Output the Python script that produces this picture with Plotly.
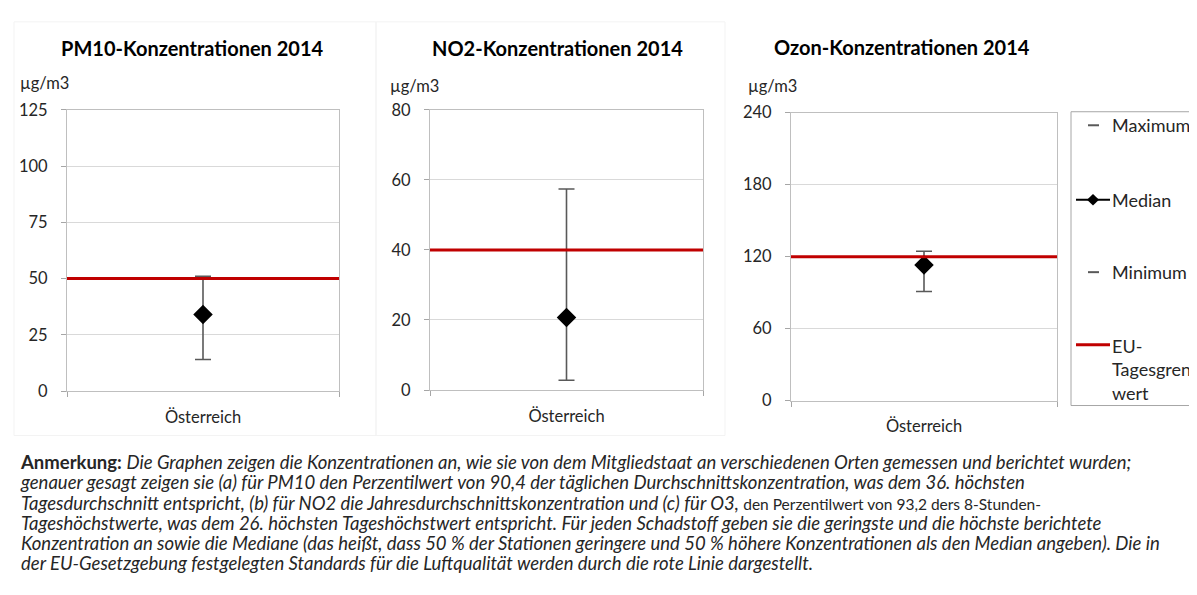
import plotly.graph_objects as go

W, H = 1197, 595
OFF = 8  # page body margin of the html page

categories = ["Österreich"]

titles = ["PM10-Konzentrationen 2014", "NO2-Konzentrationen 2014", "Ozon-Konzentrationen 2014"]
unit = "µg/m3"

pm10_min = [14]
pm10_median = [34]
pm10_max = [51]
pm10_limit = 50
pm10_ticks = [0, 25, 50, 75, 100, 125]

no2_min = [2.8]
no2_median = [20.7]
no2_max = [57.4]
no2_limit = 40
no2_ticks = [0, 20, 40, 60, 80]

o3_min = [91]
o3_median = [113]
o3_max = [124.5]
o3_limit = 120
o3_ticks = [0, 60, 120, 180, 240]

legend_labels = ["Maximum", "Median", "Minimum", "EU-<br>Tagesgrenz<br>wert"]

caption_lines = [
    "<b>Anmerkung:</b> <i>Die Graphen zeigen die Konzentrationen an, wie sie von dem Mitgliedstaat an verschiedenen Orten gemessen und berichtet wurden;</i>",
    "<i>genauer gesagt zeigen sie (a) für PM10 den Perzentilwert von 90,4 der täglichen Durchschnittskonzentration, was dem 36. höchsten</i>",
    "<i>Tagesdurchschnitt entspricht, (b) für NO2 die Jahresdurchschnittskonzentration und (c) für O3, </i><span style='font-size:15.5px'>den Perzentilwert von 93,2 ders 8-Stunden-</span>",
    "<i>Tageshöchstwerte, was dem 26. höchsten Tageshöchstwert entspricht. Für jeden Schadstoff geben sie die geringste und die höchste berichtete</i>",
    "<i>Konzentration an sowie die Mediane (das heißt, dass 50 % der Stationen geringere und 50 % höhere Konzentrationen als den Median angeben). Die in</i>",
    "<i>der EU-Gesetzgebung festgelegten Standards für die Luftqualität werden durch die rote Linie dargestellt.</i>",
]

FONT = "Lato"
TXT = "#262626"
GRID = "#d9d9d9"
RED = "#c00000"


def px(x):
    return (x - OFF) / W


def py(y):
    return 1 - (y - OFF) / H


# panel layout in pixels: (left, right, top, bottom)
boxes = [(67, 339, 103, 394), (430, 703, 103, 393), (791, 1057, 106, 404)]
title_pos = [(192, 39), (557, 39), (902, 38)]
unit_pos = [(18, 75), (388, 78), (746, 78)]

data = [
    (pm10_min, pm10_median, pm10_max, pm10_limit, pm10_ticks),
    (no2_min, no2_median, no2_max, no2_limit, no2_ticks),
    (o3_min, o3_median, o3_max, o3_limit, o3_ticks),
]

fig = go.Figure()
annotations = []
shapes = []

# faint chart-area frames
for (x0, y0, x1, y1) in [(14, 12, 376, 440), (376, 12, 725, 440)]:
    shapes.append(dict(type="rect", xref="paper", yref="paper",
                       x0=px(x0), x1=px(x1), y0=py(y1), y1=py(y0),
                       line=dict(color="#f3f3f3", width=1), layer="below"))

for i, ((mn, med, mx, lim, ticks), (l, r, t, b)) in enumerate(zip(data, boxes)):
    n = "" if i == 0 else str(i + 1)
    xa, ya = "x" + n, "y" + n
    fig.add_trace(go.Scatter(
        x=categories, y=med, mode="markers",
        marker=dict(symbol="diamond", size=15, color="black"),
        error_y=dict(type="data", symmetric=False,
                     array=[hi - m for hi, m in zip(mx, med)],
                     arrayminus=[m - lo for m, lo in zip(med, mn)],
                     color="#595959", thickness=1.6, width=8),
        xaxis=xa, yaxis=ya, showlegend=False, hoverinfo="skip",
    ))
    fig.update_layout(**{
        "xaxis" + n: dict(domain=[px(l), px(r)], anchor=ya, type="category",
                          range=[-0.5, 0.5], showgrid=False, ticks="outside",
                          tickson="boundaries", ticklen=5, tickcolor="#a6a6a6",
                          showline=True, linecolor="#bfbfbf", mirror=True,
                          ticklabelstandoff=11,
                          tickfont=dict(family=FONT, size=16.5, color=TXT),
                          fixedrange=True),
        "yaxis" + n: dict(domain=[py(b), py(t)], anchor=xa,
                          range=[ticks[0], ticks[-1]], tickvals=ticks,
                          showgrid=True, gridcolor=GRID, gridwidth=1,
                          ticks="outside", ticklen=5, tickcolor="#a6a6a6",
                          showline=True, linecolor="#bfbfbf", mirror=True,
                          zeroline=False, ticklabelstandoff=10,
                          tickfont=dict(family=FONT, size=16.5, color=TXT),
                          fixedrange=True),
    })
    shapes.append(dict(type="line", xref=xa + " domain", yref=ya,
                       x0=0, x1=1, y0=lim, y1=lim,
                       line=dict(color=RED, width=3)))
    tx, ty = title_pos[i]
    annotations.append(dict(text="<b>" + titles[i] + "</b>", x=px(tx), y=py(ty),
                            xref="paper", yref="paper", showarrow=False,
                            xanchor="center", yanchor="middle",
                            font=dict(family=FONT, size=20, color="black")))
    ux, uy = unit_pos[i]
    annotations.append(dict(text=unit, x=px(ux), y=py(uy),
                            xref="paper", yref="paper", showarrow=False,
                            xanchor="left", yanchor="middle",
                            font=dict(family=FONT, size=16.5, color=TXT)))

# legend box (clipped at right edge)
shapes.append(dict(type="rect", xref="paper", yref="paper",
                   x0=px(1071), x1=px(1215), y0=py(409), y1=py(105),
                   line=dict(color="#a6a6a6", width=1)))
leg_y = [119, 196, 271, 346]
for yy in (leg_y[0], leg_y[2]):
    shapes.append(dict(type="line", xref="paper", yref="paper",
                       x0=px(1088), x1=px(1099), y0=py(yy), y1=py(yy),
                       line=dict(color="#595959", width=2)))
shapes.append(dict(type="line", xref="paper", yref="paper",
                   x0=px(1076), x1=px(1110), y0=py(leg_y[1]), y1=py(leg_y[1]),
                   line=dict(color="black", width=2)))
cx, cy = 1093, leg_y[1]
shapes.append(dict(type="path", xref="paper", yref="paper",
                   path=f"M {px(cx-6)} {py(cy)} L {px(cx)} {py(cy-6)} L {px(cx+6)} {py(cy)} L {px(cx)} {py(cy+6)} Z",
                   fillcolor="black", line=dict(color="black", width=0)))
shapes.append(dict(type="line", xref="paper", yref="paper",
                   x0=px(1076), x1=px(1110), y0=py(leg_y[3]), y1=py(leg_y[3]),
                   line=dict(color=RED, width=3)))
for k, lab in enumerate(legend_labels):
    yy = leg_y[k]
    annotations.append(dict(text=lab, x=px(1110), y=py(yy - 12) if k == 3 else py(yy),
                            xref="paper", yref="paper", showarrow=False,
                            xanchor="left", yanchor="top" if k == 3 else "middle",
                            align="left",
                            font=dict(family=FONT, size=18, color=TXT)))

# caption: one text block; base size sets the line spacing, spans set glyph size
caption = "<br>".join("<span style='font-size:18.5px'>" + ln + "</span>" for ln in caption_lines)
annotations.append(dict(text=caption, x=px(18), y=py(454), xref="paper", yref="paper",
                        showarrow=False, xanchor="left", yanchor="top",
                        align="left",
                        font=dict(family=FONT, size=15.6, color=TXT)))

fig.update_layout(width=W, height=H, margin=dict(l=0, r=0, t=0, b=0),
                  paper_bgcolor="white", plot_bgcolor="white",
                  shapes=shapes, annotations=annotations, showlegend=False)

fig.write_html("out.html")
